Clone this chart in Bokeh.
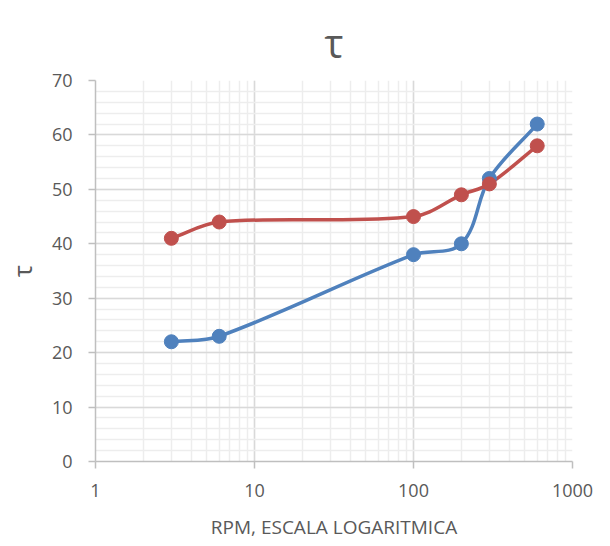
import math
from bokeh.plotting import figure
from bokeh.models import LogTicker, SingleIntervalTicker, NumeralTickFormatter, Range1d
from bokeh.embed import file_html
from bokeh.resources import INLINE

rpm = [3, 6, 100, 200, 300, 600]
tau_blue = [22, 23, 38, 40, 52, 62]
tau_red = [41, 44, 45, 49, 51, 58]
title_text = "τ"
x_title = "RPM, ESCALA LOGARITMICA"
y_title = "τ"

BLUE = "#4F81BD"
RED = "#C0504D"
GREY = "#595959"
FONT = "Open Sans"

W, H = 610, 546
BL, BR, BT, BB = 95, 38, 80, 85
X0, X1, Y0, Y1 = 1, 1000, 0, 70

p = figure(width=W, height=H, x_axis_type="log", output_backend="svg",
           toolbar_location=None, x_range=Range1d(X0, X1), y_range=Range1d(Y0, Y1),
           min_border_left=BL, min_border_right=BR, min_border_top=BT, min_border_bottom=BB)
p.outline_line_color = None

p.title.text = title_text
p.title.align = "center"
p.title.text_font = FONT
p.title.text_font_size = "40px"
p.title.text_font_style = "normal"
p.title.text_color = GREY
p.title.standoff = 22

p.xaxis.ticker = LogTicker(mantissas=[1], desired_num_ticks=4, num_minor_ticks=10)
p.xaxis.formatter = NumeralTickFormatter(format="0")
p.yaxis.ticker = SingleIntervalTicker(interval=10, num_minor_ticks=5)

for ax in (p.xaxis, p.yaxis):
    ax.axis_line_color = "#BFBFBF"
    ax.axis_line_width = 1.5
    ax.major_tick_line_color = "#BFBFBF"
    ax.major_tick_line_width = 1.5
    ax.major_tick_out = 7
    ax.major_tick_in = 0
    ax.minor_tick_line_color = None
    ax.major_label_text_font = FONT
    ax.major_label_text_font_size = "18px"
    ax.major_label_text_color = GREY
    ax.axis_label_text_font = FONT
    ax.axis_label_text_font_style = "normal"
    ax.axis_label_text_color = GREY

p.xaxis.axis_label = x_title
p.yaxis.axis_label = y_title
p.xaxis.axis_label_text_font_size = "19px"
p.yaxis.axis_label_text_font_size = "26px"
p.xaxis.major_label_standoff = 15
p.yaxis.major_label_standoff = 16
p.xaxis.axis_label_standoff = 14
p.yaxis.axis_label_standoff = 9

for g in (p.xgrid, p.ygrid):
    g.grid_line_color = "#D9D9D9"
    g.grid_line_width = 1.5
    g.minor_grid_line_color = "#EDEDED"
    g.minor_grid_line_width = 1.5

# pixel scale of the frame, so the smoothing is done in screen-like space
SX = (W - BL - BR) / (math.log10(X1) - math.log10(X0))
SY = (H - BT - BB) / (Y1 - Y0)


def smooth(xs, ys):
    u = [math.log10(v) * SX for v in xs]
    w = [v * SY for v in ys]
    n = len(xs)
    tang = []
    for i in range(n):
        a = max(i - 1, 0)
        d = min(i + 1, n - 1)
        du, dw = u[d] - u[a], w[d] - w[a]
        L = math.hypot(du, dw) or 1.0
        tang.append((du / L, dw / L))
    segs = {k: [] for k in ("x0", "y0", "x1", "y1", "cx0", "cy0", "cx1", "cy1")}
    for i in range(n - 1):
        seg = math.hypot(u[i + 1] - u[i], w[i + 1] - w[i]) / 3
        c0u = u[i] + tang[i][0] * seg
        c0w = w[i] + tang[i][1] * seg
        c1u = u[i + 1] - tang[i + 1][0] * seg
        c1w = w[i + 1] - tang[i + 1][1] * seg
        segs["x0"].append(xs[i]); segs["y0"].append(ys[i])
        segs["x1"].append(xs[i + 1]); segs["y1"].append(ys[i + 1])
        segs["cx0"].append(10 ** (c0u / SX)); segs["cy0"].append(c0w / SY)
        segs["cx1"].append(10 ** (c1u / SX)); segs["cy1"].append(c1w / SY)
    return segs


for ys, col in ((tau_blue, BLUE), (tau_red, RED)):
    s = smooth(rpm, ys)
    p.bezier(x0=s["x0"], y0=s["y0"], x1=s["x1"], y1=s["y1"],
             cx0=s["cx0"], cy0=s["cy0"], cx1=s["cx1"], cy1=s["cy1"],
             line_color=col, line_width=3.5)
for ys, col in ((tau_blue, BLUE), (tau_red, RED)):
    p.scatter(rpm, ys, size=14, fill_color=col, line_color=col)

open("out.html", "w").write(file_html(p, INLINE))
